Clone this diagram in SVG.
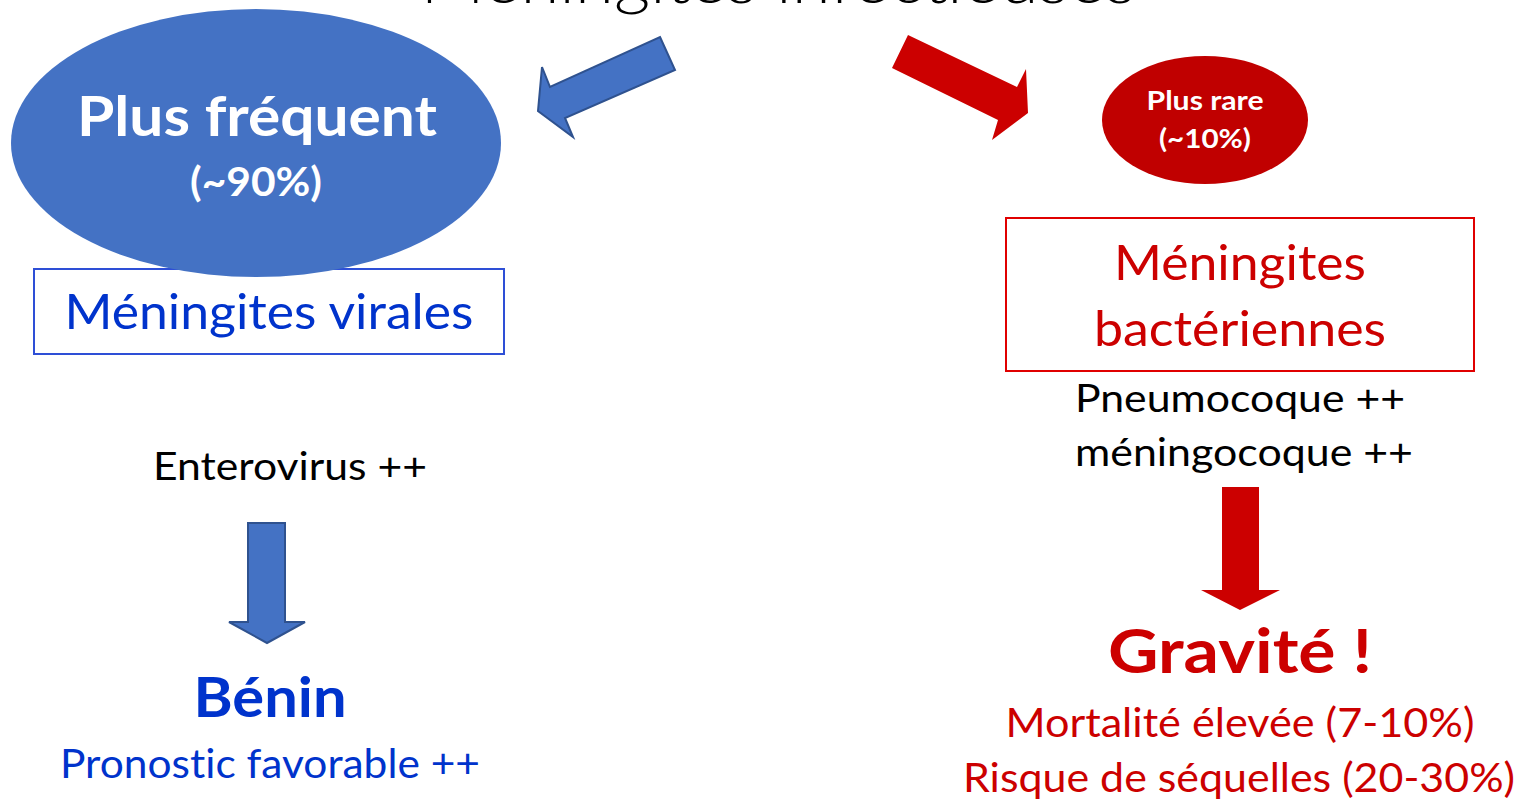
<svg xmlns="http://www.w3.org/2000/svg" width="1521" height="802" viewBox="0 0 1521 802">
  <style>
    text { font-family: Lato, "Open Sans", "Liberation Sans", sans-serif; font-variant-ligatures: none; }
    .title { font-size: 66px; font-weight: 300; fill: #000; }
    .white { fill: #fff; font-weight: 700; }
    .blue { fill: #0033CC; }
    .red { fill: #CC0000; }
    .black { fill: #000; }
    .blueShape { fill: #4472C4; stroke: #2F528F; stroke-width: 2; }
    .redShape { fill: #CC0000; }
  </style>

  <rect width="1521" height="802" fill="#fff"/>

  <!-- title, partly above the top edge -->
  <g id="title">
    <text class="title" x="778" y="3" text-anchor="middle" textLength="715" lengthAdjust="spacingAndGlyphs">Méningites infectieuses</text>
  </g>

  <g id="connectors">
    <!-- left diagonal arrow -->
    <polygon class="blueShape" points="660,37 675,70 565,118 573,137 538,111 542,67 550,87"/>
    <!-- right diagonal arrow -->
    <polygon class="redShape" points="908,35 892,68 998,120 992,140 1028,113 1026,69 1017,87"/>
    <!-- left down arrow -->
    <polygon class="blueShape" points="248,523 285,523 285,622 305,622 267,643 229,622 248,622"/>
    <!-- right down arrow -->
    <polygon class="redShape" points="1222,487 1259,487 1259,590 1280,590 1240,610 1201,590 1222,590"/>
  </g>

  <g id="viral">
    <rect x="34" y="269" width="470" height="85" fill="#fff" stroke="#2E4FD6" stroke-width="2"/>
    <text class="blue" x="269" y="329" font-size="48" text-anchor="middle" textLength="409" lengthAdjust="spacingAndGlyphs">Méningites virales</text>
  </g>

  <!-- the ellipse sits over the top edge of the box below it -->
  <g id="frequent">
    <ellipse cx="256" cy="143" rx="245" ry="134" fill="#4472C4"/>
    <text class="white" x="257" y="136" font-size="56" text-anchor="middle" textLength="360" lengthAdjust="spacingAndGlyphs">Plus fréquent</text>
    <text class="white" x="256" y="196" font-size="40" text-anchor="middle" textLength="132" lengthAdjust="spacingAndGlyphs">(~90%)</text>
  </g>

  <g id="enterovirus">
    <text class="black" x="290" y="480" font-size="38" text-anchor="middle" textLength="274" lengthAdjust="spacingAndGlyphs">Enterovirus ++</text>
  </g>

  <g id="benin">
    <text class="blue" x="270" y="717" font-size="56" font-weight="700" text-anchor="middle" textLength="153" lengthAdjust="spacingAndGlyphs">Bénin</text>
    <text class="blue" x="270" y="778" font-size="40" text-anchor="middle" textLength="420" lengthAdjust="spacingAndGlyphs">Pronostic favorable ++</text>
  </g>

  <g id="rare">
    <ellipse cx="1205" cy="120" rx="103" ry="64" fill="#C00000"/>
    <text class="white" x="1205" y="110" font-size="27" text-anchor="middle" textLength="117" lengthAdjust="spacingAndGlyphs">Plus rare</text>
    <text class="white" x="1205" y="148" font-size="27" text-anchor="middle" textLength="92" lengthAdjust="spacingAndGlyphs">(~10%)</text>
  </g>

  <g id="bacterial">
    <rect x="1006" y="218" width="468" height="153" fill="#fff" stroke="#E00000" stroke-width="2"/>
    <text class="red" x="1240" y="280" font-size="48" text-anchor="middle" textLength="252" lengthAdjust="spacingAndGlyphs">Méningites</text>
    <text class="red" x="1240" y="346" font-size="48" text-anchor="middle" textLength="292" lengthAdjust="spacingAndGlyphs">bactériennes</text>
  </g>

  <g id="germs">
    <text class="black" x="1075" y="412" font-size="38" textLength="330" lengthAdjust="spacingAndGlyphs">Pneumocoque ++</text>
    <text class="black" x="1075" y="466" font-size="38" textLength="338" lengthAdjust="spacingAndGlyphs">méningocoque ++</text>
  </g>

  <g id="gravite">
    <text class="red" x="1240" y="673" font-size="62" font-weight="700" text-anchor="middle" textLength="264" lengthAdjust="spacingAndGlyphs">Gravité !</text>
    <text class="red" x="1240" y="737" font-size="40" text-anchor="middle" textLength="469" lengthAdjust="spacingAndGlyphs">Mortalité élevée (7-10%)</text>
    <text class="red" x="1239" y="792" font-size="40" text-anchor="middle" textLength="552" lengthAdjust="spacingAndGlyphs">Risque de séquelles (20-30%)</text>
  </g>
</svg>
